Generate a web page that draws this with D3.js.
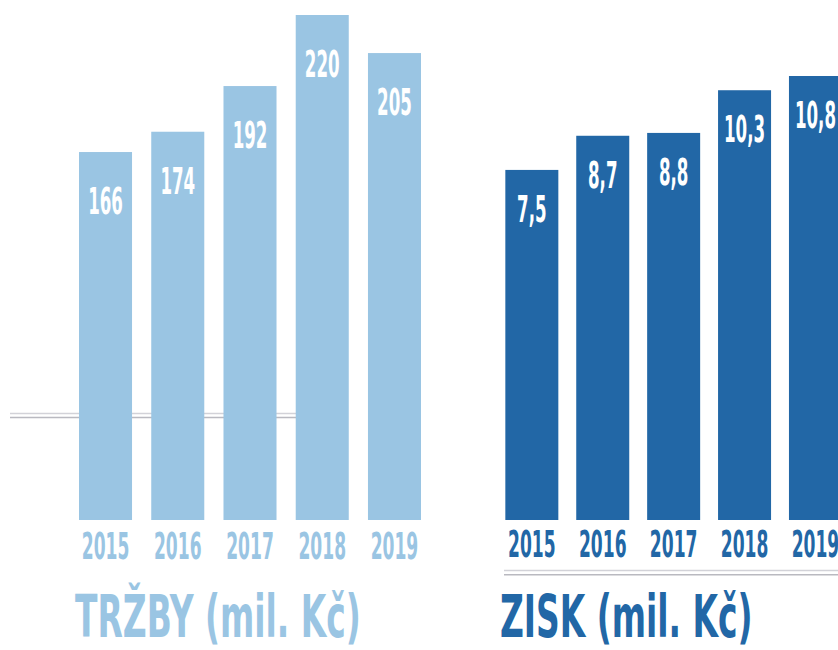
<!DOCTYPE html>
<html>
<head>
<meta charset="utf-8">
<script src="https://cdn.jsdelivr.net/npm/d3@7"></script>
<style>
  html, body { margin: 0; padding: 0; background: #fff; }
  svg text { font-family: "DejaVu Sans Condensed", "Liberation Sans Narrow", sans-serif; font-weight: bold; }
</style>
</head>
<body>
<div id="chart"></div>
<script>
// data
const years = ["2015", "2016", "2017", "2018", "2019"];
const trzby = [166, 174, 192, 220, 205];
const zisk = [7.5, 8.7, 8.8, 10.3, 10.8];
const titles = ["TRŽBY (mil. Kč)", "ZISK (mil. Kč)"];

const width = 838, height = 650;
const light = "#9ac5e3", dark = "#2267a6";
const czech = d3.formatLocale({ decimal: ",", thousands: " ", grouping: [3], currency: ["", " Kč"] });

const svg = d3.select("#chart").append("svg")
    .attr("width", width)
    .attr("height", height);

const baseY = 520;
const squeeze = 0.5;   // condensed look for the digits

// grey double rule behind the left chart
const rules = svg.append("g");
rules.append("line").attr("x1", 10).attr("x2", 320).attr("y1", 413.5).attr("y2", 413.5)
    .attr("stroke", "#d2d2d8").attr("stroke-width", 1.6);
rules.append("line").attr("x1", 10).attr("x2", 320).attr("y1", 417.5).attr("y2", 417.5)
    .attr("stroke", "#b9b9c0").attr("stroke-width", 1.6);

function drawPanel(cfg) {
    const x = d3.scaleBand().domain(years).range(cfg.xRange)
        .paddingInner(cfg.padIn).paddingOuter(cfg.padOut);
    const y = d3.scaleLinear().domain(cfg.yDomain).range([baseY, cfg.topY]);
    const rows = years.map((yr, i) => ({ year: yr, value: cfg.values[i] }));
    const g = svg.append("g");

    g.selectAll(".bar")
        .data(rows)
        .join("rect")
        .attr("class", "bar")
        .attr("x", d => x(d.year))
        .attr("y", d => y(d.value))
        .attr("width", x.bandwidth())
        .attr("height", d => baseY - y(d.value))
        .attr("fill", cfg.color);

    // value labels inside bars
    g.selectAll(".val")
        .data(rows)
        .join("text")
        .attr("class", "val")
        .attr("transform", d => `translate(${x(d.year) + x.bandwidth() / 2},${y(d.value) + cfg.labelOffset}) scale(${squeeze},1)`)
        .attr("text-anchor", "middle")
        .attr("font-size", 37)
        .attr("fill", "#fff")
        .text(d => cfg.fmt(d.value));

    // year axis (labels only)
    const axis = g.append("g")
        .attr("transform", `translate(0,${cfg.yearY})`)
        .call(d3.axisBottom(x).tickSize(0).tickPadding(0));
    axis.select(".domain").remove();
    axis.selectAll("text")
        .attr("y", 0).attr("dy", 0).attr("x", 0)
        .attr("transform", `scale(${squeeze},1)`)
        .attr("text-anchor", "middle")
        .attr("font-size", 38)
        .attr("fill", cfg.color);

    // title
    g.append("text")
        .attr("transform", `translate(${cfg.titleX},637) scale(0.62,1)`)
        .attr("font-size", 59)
        .attr("fill", cfg.color)
        .text(cfg.title);
}

drawPanel({
    values: trzby, color: light, title: titles[0],
    xRange: [69.4, 430.6], padIn: 0.266, padOut: 0.133,
    yDomain: [21, 220], topY: 15,
    labelOffset: 62, yearY: 559, titleX: 75,
    fmt: d3.format("d")
});

drawPanel({
    values: zisk, color: dark, title: titles[1],
    xRange: [496.4, 850.9], padIn: 0.2525, padOut: 0.126,
    yDomain: [-4.8, 10.8], topY: 76,
    labelOffset: 52, yearY: 557, titleX: 500,
    fmt: czech.format(".1f")
});

// grey double rule under the right chart
svg.append("line").attr("x1", 504).attr("x2", width).attr("y1", 570.5).attr("y2", 570.5)
    .attr("stroke", "#d2d2d8").attr("stroke-width", 1.6);
svg.append("line").attr("x1", 504).attr("x2", width).attr("y1", 574.8).attr("y2", 574.8)
    .attr("stroke", "#b9b9c0").attr("stroke-width", 1.6);
</script>
</body>
</html>
